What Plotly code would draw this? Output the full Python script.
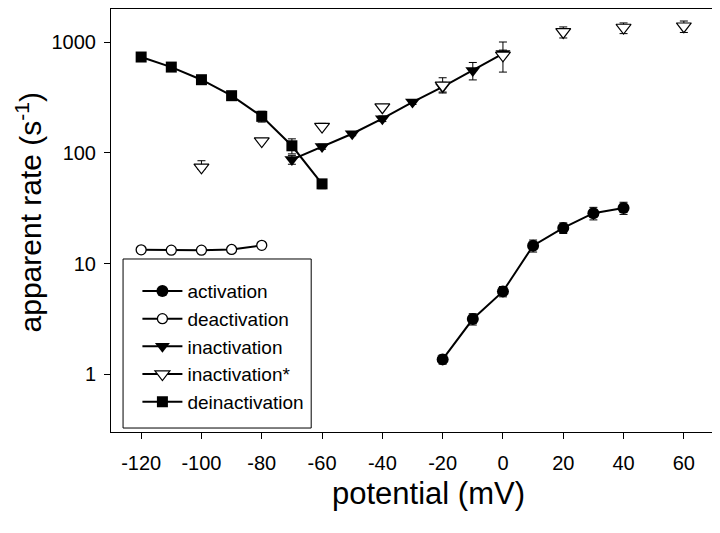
import plotly.graph_objects as go

# --- data ---
act_x = [-20, -10, 0, 10, 20, 30, 40]
act_y = [1.36, 3.15, 5.6, 14.5, 21.0, 28.5, 31.8]
act_err = [0.13, 0.37, 0.6, 1.8, 2.3, 3.7, 4.0]

deact_x = [-120, -110, -100, -90, -80]
deact_y = [13.3, 13.2, 13.2, 13.4, 14.6]

inact_x = [-70, -60, -50, -40, -30, -20, -10, 0]
inact_y = [87, 114, 149, 204, 288, 395, 557, 790]
inact_err = [8, 6, 6, 12, 14, 40, 100, 60]

inacts_x = [-100, -80, -60, -40, -20, 0, 20, 40, 60]
inacts_y = [74, 128, 173, 259, 408, 762, 1240, 1360, 1397]
inacts_up = [11, 6, 12, 14, 70, 244, 137, 136, 160]
inacts_dn = [3, 4, 4, 4, 60, 224, 146, 162, 170]

deinact_x = [-120, -110, -100, -90, -80, -70, -60]
deinact_y = [736, 597, 459, 329, 214, 116, 52.5]
deinact_err = [10, 10, 12, 10, 24, 18, 5]

x_ticks = [-120, -100, -80, -60, -40, -20, 0, 20, 40, 60]
x_ticktext = ["-120", "-100", "-80", "-60", "-40", "-20", "0", "20", "40", "60"]
y_ticks = [1, 10, 100, 1000]
y_ticktext = ["1", "10", "100", "1000"]

FONT = "Liberation Sans, Arial, sans-serif"
eb = dict(type="data", color="black", thickness=1, width=4)

fig = go.Figure()

fig.add_trace(go.Scatter(
    x=act_x, y=act_y, name="activation", mode="lines+markers",
    line=dict(color="black", width=2),
    marker=dict(symbol="circle", size=12, color="black"),
    error_y=dict(array=act_err, **eb), legendrank=1))

fig.add_trace(go.Scatter(
    x=deact_x, y=deact_y, name="deactivation", mode="lines+markers",
    line=dict(color="black", width=2),
    marker=dict(symbol="circle", size=10, color="white",
                line=dict(color="black", width=1.3)),
    legendrank=2))

fig.add_trace(go.Scatter(
    x=deinact_x, y=deinact_y, name="deinactivation", mode="lines+markers",
    line=dict(color="black", width=2),
    marker=dict(symbol="square", size=11, color="black"),
    error_y=dict(array=deinact_err, **eb), legendrank=5))

fig.add_trace(go.Scatter(
    x=inact_x, y=inact_y, name="inactivation", mode="lines+markers",
    line=dict(color="black", width=2),
    marker=dict(symbol="triangle-down", size=13, color="black"),
    error_y=dict(array=inact_err, **eb), legendrank=3))

inacts_marker = dict(symbol="triangle-down", size=13, color="white",
                     line=dict(color="black", width=1.2))
fig.add_trace(go.Scatter(
    x=inacts_x, y=inacts_y, name="inactivation*", mode="markers",
    marker=inacts_marker, showlegend=False,
    error_y=dict(array=inacts_up, arrayminus=inacts_dn, **eb)))
# legend entry (line + open triangle as in the reference legend)
fig.add_trace(go.Scatter(
    x=[None], y=[None], name="inactivation*", mode="lines+markers",
    line=dict(color="black", width=2), marker=inacts_marker, legendrank=4))

# legend frame
fig.add_shape(type="rect", xref="paper", yref="paper",
              x0=0.02, x1=0.332, y0=0.0094, y1=0.409,
              line=dict(color="black", width=1), fillcolor="rgba(0,0,0,0)")

# axis titles
fig.add_annotation(text="potential (mV)", xref="paper", yref="paper",
                   x=0.526, y=-0.146, xanchor="center", yanchor="middle",
                   showarrow=False, font=dict(size=31, family=FONT, color="black"))
fig.add_annotation(text="apparent rate (s<sup>-1</sup>)", xref="paper", yref="paper",
                   x=-0.136, y=0.519, xanchor="center", yanchor="middle",
                   textangle=-90, showarrow=False,
                   font=dict(size=30, family=FONT, color="black"))

# the page body adds an 8px offset; margins compensate for it
fig.update_layout(
    width=720, height=533,
    margin=dict(l=103, r=14, t=1, b=109, autoexpand=False),
    paper_bgcolor="white", plot_bgcolor="white",
    font=dict(family=FONT, color="black", size=20),
    showlegend=True,
    legend=dict(x=0.0438, y=0.378, xanchor="left", yanchor="top",
                bgcolor="rgba(0,0,0,0)", borderwidth=0,
                font=dict(family=FONT, size=19, color="black"),
                itemwidth=40, tracegroupgap=0),
    xaxis=dict(range=[-130, 70], tickvals=x_ticks, ticktext=x_ticktext,
               ticks="outside", automargin=False,
               ticklen=6, tickwidth=1, tickcolor="black", ticklabelstandoff=7,
               showline=True, linecolor="black", linewidth=1, mirror=True,
               showgrid=False, zeroline=False,
               tickfont=dict(size=20)),
    yaxis=dict(type="log", range=[-0.523, 3.301], tickvals=y_ticks,
               ticktext=y_ticktext, ticks="outside", automargin=False,
               ticklen=6, tickwidth=1, tickcolor="black", ticklabelstandoff=4,
               showline=True, linecolor="black", linewidth=1, mirror=True,
               showgrid=False, zeroline=False,
               tickfont=dict(size=20)),
)

fig.write_html("out.html")
